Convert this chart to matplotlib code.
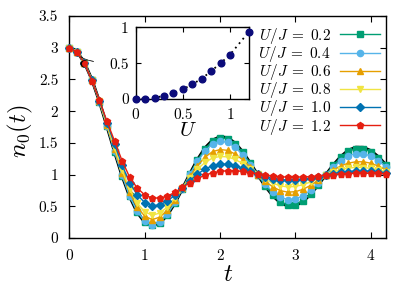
import matplotlib
matplotlib.use("Agg")
import matplotlib.pyplot as plt
from matplotlib.ticker import FormatStrFormatter

plt.rcParams['font.family'] = 'serif'
plt.rcParams['font.serif'] = ['cmr10']
plt.rcParams['mathtext.fontset'] = 'cm'
plt.rcParams['axes.formatter.use_mathtext'] = True

# time grid (t in units of 1/J)
t = [0.0, 0.1, 0.2, 0.3, 0.4, 0.5, 0.6, 0.7, 0.8, 0.9,
     1.0, 1.1, 1.2, 1.3, 1.4, 1.5, 1.6, 1.7, 1.8, 1.9,
     2.0, 2.1, 2.2, 2.3, 2.4, 2.5, 2.6, 2.7, 2.8, 2.9,
     3.0, 3.1, 3.2, 3.3, 3.4, 3.5, 3.6, 3.7, 3.8, 3.9,
     4.0, 4.1, 4.2]

# non-interacting reference (black line)
n_free = [3.000, 2.940, 2.767, 2.495, 2.149, 1.759, 1.358, 0.979, 0.654, 0.405,
          0.250, 0.195, 0.236, 0.361, 0.549, 0.777, 1.015, 1.237, 1.420, 1.543,
          1.598, 1.581, 1.496, 1.359, 1.183, 0.994, 0.816, 0.664, 0.556, 0.505,
          0.512, 0.577, 0.689, 0.834, 0.995, 1.150, 1.284, 1.383, 1.431, 1.429,
          1.377, 1.281, 1.156]

n_u02 = [3.000, 2.940, 2.767, 2.495, 2.149, 1.761, 1.361, 0.984, 0.660, 0.413,
         0.259, 0.204, 0.244, 0.367, 0.553, 0.778, 1.011, 1.229, 1.408, 1.528,
         1.582, 1.565, 1.483, 1.350, 1.178, 0.994, 0.821, 0.673, 0.568, 0.519,
         0.526, 0.590, 0.700, 0.840, 0.995, 1.144, 1.272, 1.366, 1.411, 1.409,
         1.359, 1.268, 1.149]

n_u04 = [3.000, 2.940, 2.767, 2.494, 2.150, 1.762, 1.365, 0.989, 0.666, 0.420,
         0.267, 0.212, 0.256, 0.379, 0.561, 0.779, 1.002, 1.207, 1.373, 1.481,
         1.527, 1.508, 1.431, 1.310, 1.157, 0.997, 0.849, 0.726, 0.642, 0.605,
         0.615, 0.666, 0.753, 0.867, 0.994, 1.114, 1.218, 1.295, 1.332, 1.331,
         1.291, 1.218, 1.121]

n_u06 = [3.000, 2.939, 2.765, 2.492, 2.154, 1.777, 1.396, 1.032, 0.721, 0.490,
         0.345, 0.291, 0.329, 0.437, 0.595, 0.784, 0.971, 1.142, 1.275, 1.362,
         1.395, 1.382, 1.324, 1.233, 1.119, 1.001, 0.893, 0.806, 0.747, 0.723,
         0.731, 0.768, 0.830, 0.908, 0.992, 1.070, 1.136, 1.181, 1.202, 1.202,
         1.179, 1.135, 1.076]

n_u08 = [3.000, 2.938, 2.764, 2.489, 2.157, 1.790, 1.423, 1.071, 0.770, 0.551,
         0.413, 0.360, 0.394, 0.487, 0.625, 0.788, 0.945, 1.086, 1.193, 1.261,
         1.286, 1.279, 1.239, 1.174, 1.090, 1.004, 0.926, 0.863, 0.822, 0.805,
         0.814, 0.841, 0.884, 0.936, 0.991, 1.040, 1.079, 1.103, 1.113, 1.110,
         1.099, 1.076, 1.044]

n_u10 = [3.000, 2.936, 2.762, 2.484, 2.164, 1.817, 1.482, 1.153, 0.874, 0.682,
         0.560, 0.508, 0.523, 0.581, 0.676, 0.794, 0.905, 1.009, 1.087, 1.142,
         1.165, 1.163, 1.141, 1.103, 1.055, 1.008, 0.966, 0.936, 0.919, 0.915,
         0.920, 0.927, 0.943, 0.965, 0.990, 1.013, 1.035, 1.048, 1.057, 1.057,
         1.052, 1.042, 1.025]

n_u12 = [3.000, 2.935, 2.760, 2.480, 2.170, 1.840, 1.530, 1.220, 0.960, 0.790,
         0.680, 0.630, 0.630, 0.660, 0.720, 0.800, 0.870, 0.940, 0.990, 1.030,
         1.050, 1.060, 1.060, 1.050, 1.030, 1.010, 0.990, 0.975, 0.965, 0.960,
         0.960, 0.962, 0.968, 0.978, 0.990, 1.000, 1.010, 1.015, 1.020, 1.020,
         1.020, 1.018, 1.012]

labels = [r'$U/J\;=\;0.2$', r'$U/J\;=\;0.4$', r'$U/J\;=\;0.6$',
          r'$U/J\;=\;0.8$', r'$U/J\;=\;1.0$', r'$U/J\;=\;1.2$']
colors = ['#009e73', '#56b4e9', '#e69f00', '#f0e442', '#0072b2', '#e51e10']
markers = ['s', 'o', '^', 'v', 'D', 'p']

# inset: damping rate vs U
u_inset = [0.0, 0.1, 0.2, 0.3, 0.4, 0.5, 0.6, 0.7, 0.8, 0.9, 1.0, 1.2]
gamma = [0.0, 0.005, 0.02, 0.04, 0.084, 0.135, 0.205, 0.284, 0.39, 0.50, 0.62, 0.94]

fig = plt.figure(figsize=(4.15, 2.91), dpi=100)
ax = fig.add_axes([0.167, 0.182, 0.763, 0.763])

ax.plot(t, n_free, color='black', lw=2.2, zorder=1)
series = [n_u02, n_u04, n_u06, n_u08, n_u10, n_u12]
for y, lab, c, m in zip(series, labels, colors, markers):
    ms = 3.6 if m == 'D' else 4.5
    ax.plot(t, y, color=c, marker=m, ms=ms, lw=1.0, label=lab,
            clip_on=False, zorder=3)

ax.set_xlim(0, 4.2)
ax.set_ylim(0, 3.5)
ax.set_xticks([0, 1, 2, 3, 4])
ax.set_yticks([0, 0.5, 1, 1.5, 2, 2.5, 3, 3.5])
ax.xaxis.set_major_formatter(FormatStrFormatter('%g'))
ax.yaxis.set_major_formatter(FormatStrFormatter('%g'))
ax.tick_params(direction='in', top=True, right=True, length=4, width=0.8,
               labelsize=11, pad=8)
for s in ax.spines.values():
    s.set_linewidth(1.0)
ax.set_xlabel('$t$', fontsize=18)
ax.set_ylabel('$n_0(t)$', fontsize=18)
ax.xaxis.set_label_coords(0.5, -0.115)
ax.yaxis.set_label_coords(-0.108, 0.48)

leg = ax.legend(loc='upper right', bbox_to_anchor=(0.98, 0.956),
                frameon=False, markerfirst=False, fontsize=11,
                handlelength=2.6, handletextpad=0.6, labelspacing=-0.12,
                borderpad=0, borderaxespad=0)

ins = fig.add_axes([0.327, 0.660, 0.273, 0.246])
ins.plot(u_inset, gamma, color='black', ls=(0, (1, 2.2)), lw=1.3, zorder=1)
ins.plot(u_inset, gamma, ls='none', marker='o', ms=4.8, color='#0b0b7a',
         clip_on=False, zorder=3)
ins.set_xlim(0, 1.2)
ins.set_ylim(0, 1)
ins.set_xticks([0, 0.5, 1])
ins.set_yticks([0, 0.5, 1])
ins.xaxis.set_major_formatter(FormatStrFormatter('%g'))
ins.yaxis.set_major_formatter(FormatStrFormatter('%g'))
ins.tick_params(axis='x', pad=7)
ins.tick_params(axis='y', pad=5)
ins.tick_params(direction='in', top=True, right=True, length=3.5, width=0.8,
                labelsize=11)
for s in ins.spines.values():
    s.set_linewidth(1.0)
ins.set_xlabel('$U$', fontsize=15)
ins.set_ylabel(r'$\gamma$', fontsize=15)
ins.xaxis.set_label_coords(0.46, -0.32)
ins.yaxis.set_label_coords(-0.34, 0.52)

fig.savefig('out.png', dpi=100)
